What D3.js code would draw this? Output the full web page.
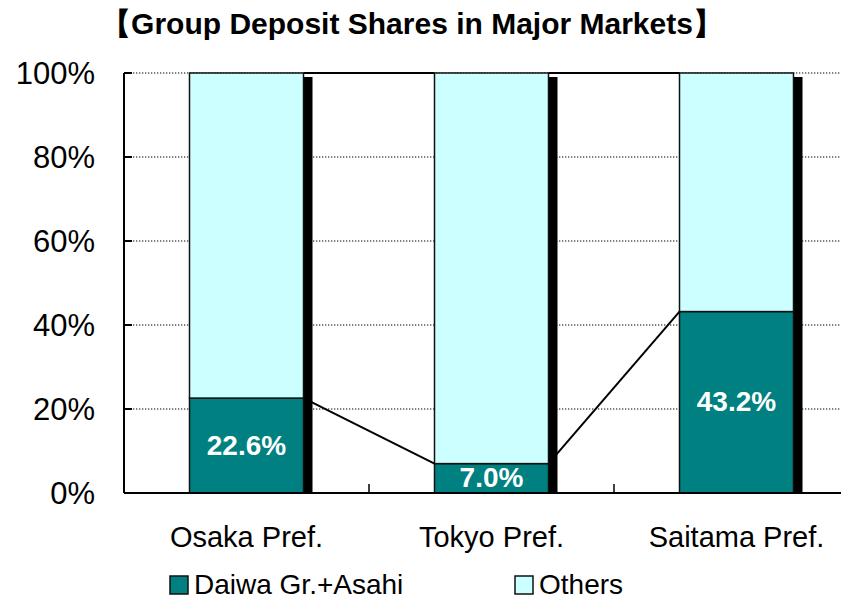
<!DOCTYPE html>
<html>
<head>
<meta charset="utf-8">
<script src="https://cdn.jsdelivr.net/npm/d3@7"></script>
<style>
  body { margin: 0; background: #fff; }
  text { font-family: "Liberation Sans", Arial, sans-serif; fill: #000; }
</style>
</head>
<body>
<div id="chart"></div>
<script>
var categories = ['Osaka Pref.', 'Tokyo Pref.', 'Saitama Pref.']
var daiwa = [22.6, 7.0, 43.2]
var others = [77.4, 93.0, 56.8]
var seriesNames = ['Daiwa Gr.+Asahi', 'Others']
var yTicks = [0, 20, 40, 60, 80, 100]
var title = '【Group Deposit Shares in Major Markets】'

var colors = ['#008080', '#ccffff']

var width = 841, height = 601
var margin = {left: 124, top: 73, bottom: 108}
var plotW = 735   // the plot runs past the right edge of the picture
var plotH = height - margin.top - margin.bottom

var svg = d3.select('#chart').append('svg')
  .attr('width', width).attr('height', height)

var g = svg.append('g').attr('transform', 'translate(' + margin.left + ',' + margin.top + ')')

var gap = 1 - 114 / 245
var x = d3.scaleBand().domain(categories).range([0, plotW])
  .paddingInner(gap).paddingOuter(gap / 2)
var y = d3.scaleLinear().domain([0, 100]).range([plotH, 0])

var rows = categories.map(function(c, i){
  return {cat: c, daiwa: daiwa[i], others: others[i]}
})
var stack = d3.stack().keys(['daiwa', 'others'])(rows)

// dotted gridlines
g.selectAll('line.grid').data(yTicks).join('line')
  .attr('class', 'grid')
  .attr('x1', 0).attr('x2', width)
  .attr('y1', function(d){ return y(d) }).attr('y2', function(d){ return y(d) })
  .attr('stroke', '#000').attr('stroke-width', 1.2)
  .attr('stroke-dasharray', '1.3,1.7')

// series lines between bars
stack.forEach(function(layer){
  for (var i = 0; i < layer.length - 1; i++){
    g.append('line')
      .attr('x1', x(categories[i]) + x.bandwidth())
      .attr('x2', x(categories[i + 1]))
      .attr('y1', y(layer[i][1])).attr('y2', y(layer[i + 1][1]))
      .attr('stroke', '#000').attr('stroke-width', 2)
  }
})

// shadows
g.selectAll('rect.shadow').data(categories).join('rect')
  .attr('class', 'shadow')
  .attr('x', function(d){ return x(d) + 9 })
  .attr('y', y(100) + 4)
  .attr('width', x.bandwidth())
  .attr('height', plotH - 4)
  .attr('fill', '#000')

// stacked bars
g.selectAll('g.layer').data(stack).join('g')
  .attr('class', 'layer')
  .attr('fill', function(d, i){ return colors[i] })
  .selectAll('rect').data(function(d){ return d }).join('rect')
  .attr('x', function(d){ return x(d.data.cat) })
  .attr('y', function(d){ return y(d[1]) })
  .attr('width', x.bandwidth())
  .attr('height', function(d){ return y(d[0]) - y(d[1]) })
  .attr('stroke', '#111').attr('stroke-width', 1.5)

// value labels
g.selectAll('text.val').data(stack[0]).join('text')
  .attr('class', 'val')
  .attr('x', function(d){ return x(d.data.cat) + x.bandwidth() / 2 })
  .attr('y', function(d){ return (y(d[0]) + y(d[1])) / 2 + 9 })
  .attr('text-anchor', 'middle')
  .style('fill', '#fff').style('font-weight', 'bold').style('font-size', '28px')
  .text(function(d){ return d.data.daiwa.toFixed(1) + '%' })

// axes
g.append('line').attr('x1', 0).attr('x2', 0).attr('y1', 0).attr('y2', plotH)
  .attr('stroke', '#000').attr('stroke-width', 2)
g.append('line').attr('x1', 0).attr('x2', width).attr('y1', plotH).attr('y2', plotH)
  .attr('stroke', '#000').attr('stroke-width', 2)

g.selectAll('line.ytick').data(yTicks).join('line')
  .attr('class', 'ytick')
  .attr('x1', 0).attr('x2', 8)
  .attr('y1', function(d){ return y(d) }).attr('y2', function(d){ return y(d) })
  .attr('stroke', '#000').attr('stroke-width', 2)

g.selectAll('text.ylab').data(yTicks).join('text')
  .attr('class', 'ylab')
  .attr('x', -29).attr('y', function(d){ return y(d) + 11 })
  .attr('text-anchor', 'end').style('font-size', '31px')
  .text(function(d){ return d + '%' })

g.selectAll('line.xtick').data(categories.slice(1)).join('line')
  .attr('class', 'xtick')
  .attr('x1', function(d){ return x(d) - x.step() * gap / 2 })
  .attr('x2', function(d){ return x(d) - x.step() * gap / 2 })
  .attr('y1', plotH).attr('y2', plotH - 9)
  .attr('stroke', '#000').attr('stroke-width', 1.5)

g.selectAll('text.xlab').data(categories).join('text')
  .attr('class', 'xlab')
  .attr('x', function(d){ return x(d) + x.bandwidth() / 2 })
  .attr('y', plotH + 54)
  .attr('text-anchor', 'middle').style('font-size', '29px')
  .text(function(d){ return d })

// title
svg.append('text')
  .attr('x', 412).attr('y', 34)
  .attr('text-anchor', 'middle')
  .style('font-weight', 'bold').style('font-size', '30px')
  .text(title)

// legend
var legendX = [170, 515]
var lg = svg.selectAll('g.legend').data(seriesNames).join('g')
  .attr('class', 'legend')
  .attr('transform', function(d, i){ return 'translate(' + legendX[i] + ',576)' })
lg.append('rect')
  .attr('width', 18).attr('height', 18)
  .attr('fill', function(d, i){ return colors[i] })
  .attr('stroke', '#111').attr('stroke-width', 1.5)
lg.append('text')
  .attr('x', 24).attr('y', 18)
  .style('font-size', '28px')
  .text(function(d){ return d })
</script>
</body>
</html>
